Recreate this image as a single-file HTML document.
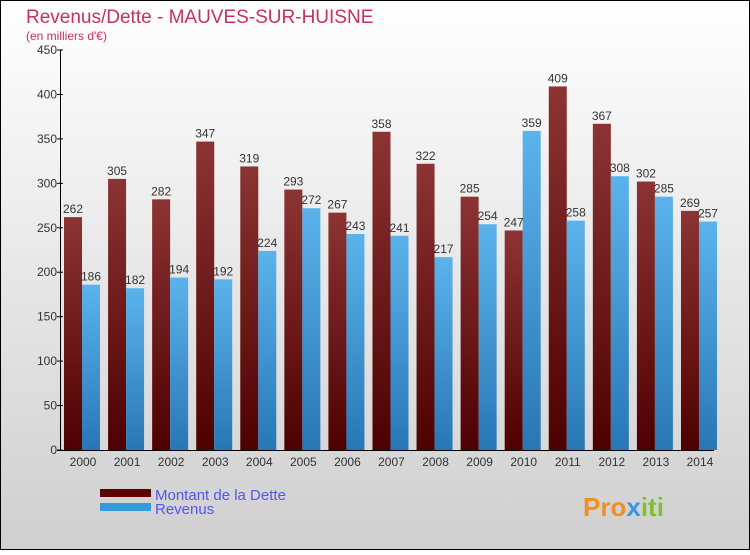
<!DOCTYPE html>
<html><head><meta charset="utf-8"><style>
html,body{margin:0;padding:0}
body{width:750px;height:550px;overflow:hidden;font-family:"Liberation Sans",sans-serif}
svg text{font-family:"Liberation Sans",sans-serif}
</style></head><body>
<svg id="chart" width="750" height="550" xmlns="http://www.w3.org/2000/svg">
<defs>
<linearGradient id="bg" x1="0" y1="0" x2="0" y2="1"><stop offset="0" stop-color="#ffffff"/><stop offset="1" stop-color="#cfcfcf"/></linearGradient>
<linearGradient id="gd" x1="0" y1="0" x2="0" y2="1"><stop offset="0" stop-color="#8c3434"/><stop offset="1" stop-color="#4e0000"/></linearGradient>
<linearGradient id="gr" x1="0" y1="0" x2="0" y2="1"><stop offset="0" stop-color="#5cb3ec"/><stop offset="1" stop-color="#2877b5"/></linearGradient>
</defs>
<rect x="0.5" y="0.5" width="749" height="549" fill="url(#bg)" stroke="#000"/>
<text x="26" y="23" font-size="19" fill="#c8305f">Revenus/Dette - MAUVES-SUR-HUISNE</text>
<text x="26" y="40" font-size="12" fill="#c8305f">(en milliers d'€)</text>
<g id="bars"></g>
<g id="axes"></g>
<rect x="100" y="489" width="51" height="8" fill="#5a0000"/>
<rect x="100" y="503" width="51" height="8" fill="#3399e0"/>
<text x="155" y="500" font-size="15" fill="#5555ee">Montant de la Dette</text>
<text x="155" y="514" font-size="15" fill="#5555ee">Revenus</text>
<text x="583" y="516" font-size="26" font-weight="bold" fill="#f09020">Pro<tspan fill="#3399e0">x</tspan><tspan fill="#80c030">iti</tspan></text>
</svg>
<script>
const years=["2000","2001","2002","2003","2004","2005","2006","2007","2008","2009","2010","2011","2012","2013","2014"];
const dette=[262,305,282,347,319,293,267,358,322,285,247,409,367,302,269];
const revenus=[186,182,194,192,224,272,243,241,217,254,359,258,308,285,257];
const ticks=[0,50,100,150,200,250,300,350,400,450];
const NS="http://www.w3.org/2000/svg";
const y0=450,yTop=50,vmax=450;
function y(v){return y0-(v/vmax)*(y0-yTop);}
function xc(i){return 83+i*44.07;}
const bars=document.getElementById('bars'),axes=document.getElementById('axes');
function mk(tag,attrs,parent,txt){const e=document.createElementNS(NS,tag);for(const k in attrs)e.setAttribute(k,attrs[k]);if(txt!==undefined)e.textContent=txt;parent.appendChild(e);return e;}
years.forEach((yr,i)=>{
  const c=xc(i);
  const d=mk('rect',{x:c-19,y:y(dette[i]),width:18,height:y0-y(dette[i]),fill:'url(#gd)'},bars);
  
  
  const r=mk('rect',{x:c-1,y:y(revenus[i]),width:18,height:y0-y(revenus[i]),fill:'url(#gr)'},bars);
  
  
  const dl=mk('text',{x:c-10,y:y(dette[i])-4,'font-size':12,fill:'#333','text-anchor':'middle'},bars,dette[i]);
  
  
  const rl=mk('text',{x:c+8,y:y(revenus[i])-4,'font-size':12,fill:'#333','text-anchor':'middle'},bars,revenus[i]);
  
  
  const xl=mk('text',{x:c,y:466,'font-size':12,fill:'#333','text-anchor':'middle'},axes,yr);
  
  
});
ticks.forEach(t=>{
  const l=mk('line',{x1:57,x2:63,y1:y(t),y2:y(t),stroke:'#000'},axes);
  
  
  const tl=mk('text',{x:57,y:y(t)+4,'font-size':12,fill:'#333','text-anchor':'end'},axes,t);
  
  
});
const ya=mk('line',{x1:60.5,x2:60.5,y1:50,y2:450,stroke:'#000'},axes);


const xa=mk('line',{x1:57,x2:714,y1:450.5,y2:450.5,stroke:'#000'},axes);


</script>
</body></html>
